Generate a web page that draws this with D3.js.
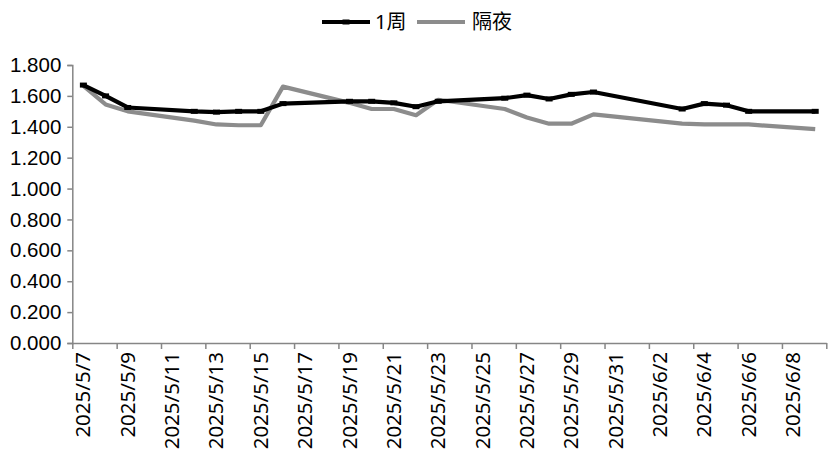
<!DOCTYPE html>
<html><head><meta charset="utf-8">
<script src="https://cdn.jsdelivr.net/npm/d3@7/dist/d3.min.js"></script>
<style>
html,body{margin:0;padding:0;background:#fff;}
svg{display:block;font-family:"Noto Sans","Noto Sans CJK SC",sans-serif;}
</style></head>
<body>
<svg id="chart" width="833" height="466"></svg>
<script>
const dates = ["2025-05-07","2025-05-08","2025-05-09","2025-05-12","2025-05-13","2025-05-14","2025-05-15","2025-05-16","2025-05-19","2025-05-20","2025-05-21","2025-05-22","2025-05-23","2025-05-26","2025-05-27","2025-05-28","2025-05-29","2025-05-30","2025-06-03","2025-06-04","2025-06-05","2025-06-06","2025-06-09"];
const week1 = [1.670,1.600,1.525,1.500,1.495,1.500,1.500,1.550,1.565,1.565,1.555,1.530,1.565,1.585,1.605,1.580,1.610,1.625,1.515,1.550,1.540,1.500,1.500];
const overnight = [1.665,1.545,1.500,1.440,1.415,1.410,1.410,1.660,1.555,1.515,1.515,1.475,1.575,1.515,1.460,1.420,1.420,1.480,1.420,1.415,1.415,1.415,1.385];
const tickLabels = ["2025/5/7","2025/5/9","2025/5/11","2025/5/13","2025/5/15","2025/5/17","2025/5/19","2025/5/21","2025/5/23","2025/5/25","2025/5/27","2025/5/29","2025/5/31","2025/6/2","2025/6/4","2025/6/6","2025/6/8"];
const yTicks = [0,0.2,0.4,0.6,0.8,1.0,1.2,1.4,1.6,1.8];
const seriesNames = ["1周","隔夜"];

(function(){
const svg = d3.select("#chart");
const mLeft = 72.3, mRight = 826.3, mTop = 65, mBottom = 343;
const parseISO = s => new Date(s + "T00:00:00Z");
const parseLbl = s => { const p = s.split("/").map(Number); return new Date(Date.UTC(p[0], p[1]-1, p[2])); };
const DAY = 86400000;
const startDate = parseISO(dates[0]);
const endDate = new Date(parseISO(dates[dates.length-1]).getTime() + DAY);

const x = d3.scaleUtc().domain([startDate, endDate]).range([mLeft, mRight]);
const y = d3.scaleLinear().domain([0, 1.8]).range([mBottom, mTop]);
const mid = d => new Date(d.getTime() + DAY/2);

const axisColor = "#868686";

// Y axis
const yAxis = svg.append("g").attr("transform", `translate(${mLeft},0)`)
  .call(d3.axisLeft(y).tickValues(yTicks).tickFormat(d3.format(".3f")).tickSize(5).tickPadding(6));
yAxis.select(".domain").attr("stroke", axisColor).attr("stroke-width", 1.5);
yAxis.selectAll(".tick line").attr("stroke", axisColor).attr("stroke-width", 1.5);
yAxis.selectAll(".tick text").attr("fill", "#000").style("font-size", "20.5px");

// X axis
const tickDates = tickLabels.map(parseLbl).concat([endDate]);
const xAxis = svg.append("g").attr("transform", `translate(0,${mBottom})`)
  .call(d3.axisBottom(x).tickValues(tickDates).tickFormat("").tickSize(6).tickSizeOuter(0));
xAxis.select(".domain").attr("stroke", axisColor).attr("stroke-width", 1.5);
xAxis.selectAll(".tick line").attr("stroke", axisColor).attr("stroke-width", 1.5);

const lblG = svg.append("g");
tickLabels.forEach(s => {
  const d = parseLbl(s);
  const px = x(mid(d));
  lblG.append("text")
    .attr("transform", `translate(${px + 7},${mBottom + 9}) rotate(-90)`)
    .attr("text-anchor", "end")
    .style("font-size", "20.5px")
    .attr("fill", "#000")
    .text(s);
});

// Lines
const pts = dates.map(parseISO).map(mid);
const line = d3.line().x(d => x(d[0])).y(d => y(d[1]));
const grayData = pts.map((d, i) => [d, overnight[i]]);
const blackData = pts.map((d, i) => [d, week1[i]]);

svg.append("path").datum(grayData).attr("d", line)
  .attr("fill", "none").attr("stroke", "#8c8c8c").attr("stroke-width", 4.2).attr("stroke-linejoin", "round");
svg.append("path").datum(blackData).attr("d", line)
  .attr("fill", "none").attr("stroke", "#000").attr("stroke-width", 4.2).attr("stroke-linejoin", "round");
svg.append("g").selectAll("rect").data(blackData).join("rect")
  .attr("x", d => x(d[0]) - 3.5).attr("y", d => y(d[1]) - 2.5)
  .attr("width", 7).attr("height", 5).attr("fill", "#000");

// Legend
const lg = svg.append("g");
lg.append("line").attr("x1", 322).attr("x2", 370).attr("y1", 22).attr("y2", 22)
  .attr("stroke", "#000").attr("stroke-width", 4.2);
lg.append("rect").attr("x", 342.5).attr("y", 19.5).attr("width", 7).attr("height", 5).attr("fill", "#000");
lg.append("text").attr("x", 375).attr("y", 29).style("font-size", "20px").text(seriesNames[0]);
lg.append("line").attr("x1", 417).attr("x2", 465).attr("y1", 22).attr("y2", 22)
  .attr("stroke", "#8c8c8c").attr("stroke-width", 4.2);
lg.append("text").attr("x", 472).attr("y", 29).style("font-size", "20px").text(seriesNames[1]);
})();
</script>
</body></html>
